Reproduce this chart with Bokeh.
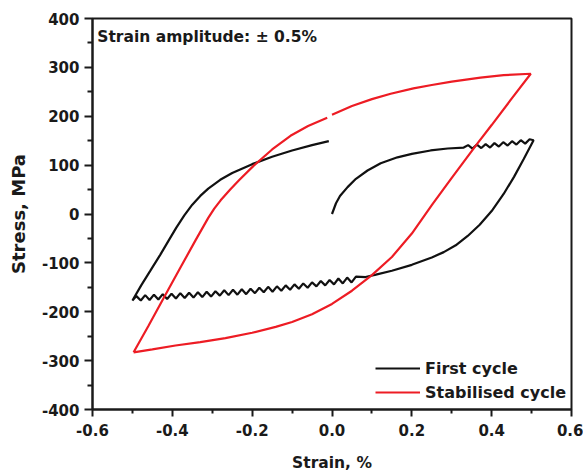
from bokeh.plotting import figure
from bokeh.models import Range1d, FixedTicker, Label, Legend, LegendItem
from bokeh.embed import file_html
from bokeh.resources import INLINE

nan = float("nan")

# First cycle (black): initial loading, serrated top, unloading, serrated compression, reloading
first_x = [0.0, 0.01, 0.02, 0.039, 0.06, 0.089, 0.122, 0.164, 0.2, 0.247, 0.29, 0.33,
           0.341, 0.352, 0.363, 0.374, 0.385, 0.396, 0.407, 0.418, 0.429, 0.440, 0.451, 0.462,
           0.473, 0.484, 0.495, 0.505,
           0.48, 0.456, 0.43, 0.40, 0.37, 0.34, 0.31, 0.28, 0.25, 0.2, 0.15, 0.11, 0.084,
           0.060, 0.049, 0.038, 0.027, 0.016, 0.005, -0.006, -0.017, -0.028, -0.039, -0.050,
           -0.061, -0.072, -0.083, -0.094, -0.105, -0.116, -0.127, -0.138, -0.149, -0.160,
           -0.171, -0.182, -0.193, -0.204, -0.215, -0.226, -0.237, -0.248, -0.259, -0.270,
           -0.281, -0.292, -0.303, -0.314, -0.325, -0.336, -0.347, -0.358, -0.369, -0.380,
           -0.391, -0.402, -0.413, -0.424, -0.435, -0.446, -0.457, -0.468, -0.479, -0.490, -0.500,
           -0.478, -0.455, -0.43, -0.409, -0.39, -0.37, -0.35, -0.33, -0.31, -0.28, -0.25,
           -0.2, -0.15, -0.1, -0.05, -0.008]
first_y = [0, 22, 37, 55, 72, 89, 104, 116, 123, 130, 134, 136,
           141, 134, 142, 135, 143, 136, 145, 138, 147, 140, 149, 142,
           151, 144, 153, 151,
           112, 76, 41, 6, -22, -45, -64, -78, -89, -104, -116, -124, -129,
           -128, -140, -130, -142, -132, -144, -135, -146, -137, -148, -140,
           -151, -142, -153, -144, -155, -146, -157, -148, -159, -149,
           -160, -151, -162, -153, -164, -154, -165, -155, -166, -156,
           -167, -158, -169, -159, -170, -160, -171, -161, -172, -162,
           -173, -163, -174, -164, -175, -165, -176, -166, -177, -168, -177,
           -146, -116, -83, -54, -28, -3, 19, 37, 52, 70, 84,
           102, 117, 130, 141, 149]

# Stabilised cycle (red)
stab_x = [-0.497, -0.46, -0.421, -0.38, -0.342, -0.31, -0.295, -0.279, -0.255, -0.233, -0.196,
          -0.15, -0.104, -0.06, -0.012, nan, 0.0, 0.05, 0.1, 0.147, 0.204, 0.25, 0.3, 0.372,
          0.43, 0.498,
          0.45, 0.4, 0.364, 0.3, 0.25, 0.2, 0.15, 0.1, 0.05, 0.0, -0.05, -0.1, -0.141, -0.2,
          -0.267, -0.33, -0.392, -0.45, -0.497]
stab_y = [-283, -229, -171, -110, -54, -8, 11, 28, 50, 69, 99,
          132, 160, 180, 197, nan, 203, 221, 235, 246, 257, 264, 271, 279,
          284, 287,
          236, 182, 144, 74, 18, -40, -88, -125, -157, -184, -205, -221, -231, -243,
          -254, -262, -269, -277, -283]

series_labels = ["First cycle", "Stabilised cycle"]
annotation = "Strain amplitude: \u00b1 0.5%"
x_title = "Strain, %"
y_title = "Stress, MPa"

x_ticks = [-0.6, -0.4, -0.2, 0.0, 0.2, 0.4, 0.6]
x_tick_labels = ["-0.6", "-0.4", "-0.2", "0.0", "0.2", "0.4", "0.6"]
x_minor = [-0.5, -0.3, -0.1, 0.1, 0.3, 0.5]
y_ticks = [-400, -300, -200, -100, 0, 100, 200, 300, 400]
y_tick_labels = ["-400", "-300", "-200", "-100", "0", "100", "200", "300", "400"]
y_minor = [-350, -250, -150, -50, 50, 150, 250, 350]

FONT = "DejaVu Sans"
INK = "#1a1a1a"

p = figure(width=583, height=475, output_backend="svg", toolbar_location=None,
           x_range=Range1d(-0.6, 0.6), y_range=Range1d(-400, 400),
           min_border_left=92, min_border_right=12, min_border_top=18, min_border_bottom=66)
p.background_fill_color = "white"
p.border_fill_color = "white"
p.grid.visible = False
p.outline_line_color = INK
p.outline_line_width = 2

p.xaxis.ticker = FixedTicker(ticks=x_ticks, minor_ticks=x_minor)
p.yaxis.ticker = FixedTicker(ticks=y_ticks, minor_ticks=y_minor)
p.xaxis.major_label_overrides = {t: s for t, s in zip(x_ticks, x_tick_labels)}
p.yaxis.major_label_overrides = {t: s for t, s in zip(y_ticks, y_tick_labels)}
p.xaxis.axis_label = x_title
p.yaxis.axis_label = y_title
for ax in (p.xaxis, p.yaxis):
    ax.axis_line_width = 2
    ax.axis_line_color = INK
    ax.major_tick_line_width = 2
    ax.minor_tick_line_width = 2
    ax.major_tick_line_color = INK
    ax.minor_tick_line_color = INK
    ax.major_tick_in = 0
    ax.minor_tick_in = 0
    ax.major_label_text_font = FONT
    ax.major_label_text_font_style = "bold"
    ax.major_label_text_font_size = "15px"
    ax.major_label_text_color = INK
    ax.axis_label_text_font = FONT
    ax.axis_label_text_font_style = "bold"
    ax.axis_label_text_color = INK
p.xaxis.axis_label_text_font_size = "15.5px"
p.yaxis.axis_label_text_font_size = "18px"
p.xaxis.major_tick_out = 7
p.xaxis.minor_tick_out = 4
p.yaxis.major_tick_out = 8
p.yaxis.minor_tick_out = 5
p.xaxis.major_label_standoff = 7
p.yaxis.major_label_standoff = 5
p.xaxis.axis_label_standoff = 15
p.yaxis.axis_label_standoff = 10

r1 = p.line(first_x, first_y, line_color="#111111", line_width=2.2)
r2 = p.line(stab_x, stab_y, line_color="#ed1c24", line_width=2.2)

p.add_layout(Label(x=-0.588, y=381, text=annotation, text_baseline="top",
                   text_font=FONT, text_font_style="bold", text_font_size="15.5px",
                   text_color=INK))

legend = Legend(items=[LegendItem(label=series_labels[0], renderers=[r1]),
                       LegendItem(label=series_labels[1], renderers=[r2])],
                location=(283, 6), border_line_color=None, background_fill_alpha=0,
                label_text_font=FONT, label_text_font_style="bold", label_text_font_size="16px",
                label_text_color=INK,
                glyph_width=45, glyph_height=22, label_height=22, spacing=2,
                padding=0, margin=0, label_standoff=5)
p.add_layout(legend)

open("out.html", "w").write(file_html(p, INLINE))
